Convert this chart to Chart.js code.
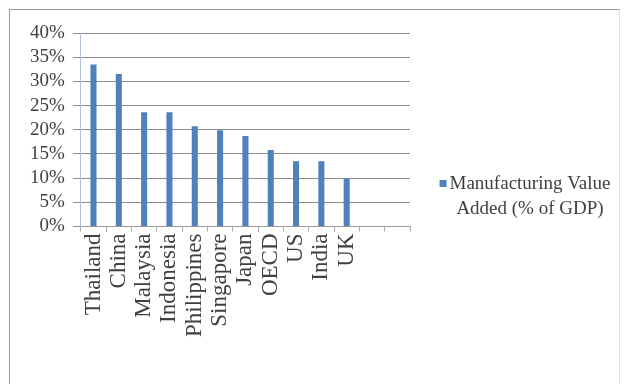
<!DOCTYPE html>
<html>
<head>
<meta charset="utf-8">
<script src="https://cdn.jsdelivr.net/npm/chart.js@4"></script>
<style>
  body { margin: 0; background: #fff; }
  #frame {
    position: absolute; left: 9px; top: 9px; width: 609px; height: 380px;
    border-top: 1px solid #9a9a9a; border-left: 1px solid #9a9a9a; border-right: 1px solid #e2e2e2;
  }
  #wrap { position: absolute; left: 0; top: 0; width: 625px; height: 384px; }
</style>
</head>
<body>
<div id="frame"></div>
<div id="wrap"><canvas id="mvaChart" width="625" height="384"></canvas></div>
<script>
// categorias (las dos ultimas vacias, como en el original)
const paises = ['Thailand', 'China', 'Malaysia', 'Indonesia', 'Philippines', 'Singapore',
                'Japan', 'OECD', 'US', 'India', 'UK', '', ''];
const valorAgregado = [33.5, 31.5, 23.6, 23.6, 20.7, 19.9, 18.7, 15.8, 13.5, 13.5, 9.9, null, null];
const ticksY = [0, 5, 10, 15, 20, 25, 30, 35, 40];
const nombreSerie = ['Manufacturing Value', 'Added (% of GDP)'];

const colorBarra = '#4F81BD';
const fuente = 'Liberation Serif, Times New Roman, serif';

// leyenda a mano porque tiene dos lineas
const leyendaPlugin = {
    id: 'leyendaDosLineas',
    afterDraw(chart) {
        const ctx = chart.ctx;
        const area = chart.chartArea;
        const cx = area.right + 120;
        const y0 = 184;
        ctx.save();
        ctx.font = '19px ' + fuente;
        ctx.fillStyle = '#404040';
        ctx.textAlign = 'center';
        ctx.textBaseline = 'middle';
        nombreSerie.forEach((linea, i) => ctx.fillText(linea, cx, y0 + i * 25));
        const w = ctx.measureText(nombreSerie[0]).width;
        ctx.fillStyle = colorBarra;
        ctx.fillRect(cx - w / 2 - 10, y0 - 4, 7, 7);
        ctx.restore();
    }
};

const ctx = document.getElementById('mvaChart');
new Chart(ctx, {
    type: 'bar',
    data: {
        labels: paises,
        datasets: [{
            label: nombreSerie.join(' '),
            data: valorAgregado,
            backgroundColor: colorBarra,
            borderWidth: 0,
            barPercentage: 0.24,
            categoryPercentage: 1
        }]
    },
    options: {
        responsive: false,
        animation: false,
        layout: { padding: { top: 33, left: 22, right: 215, bottom: 45 } },
        plugins: {
            legend: { display: false },
            tooltip: { enabled: false }
        },
        scales: {
            x: {
                grid: { display: true, drawOnChartArea: false, tickLength: 5, color: '#a8a8a8', offset: true },
                border: { color: '#9a9a9a' },
                ticks: {
                    autoSkip: false, maxRotation: 90, minRotation: 90, padding: 2,
                    color: '#404040', font: { family: fuente, size: 23 }
                }
            },
            y: {
                min: 0, max: 40,
                afterBuildTicks(axis) { axis.ticks = ticksY.map(v => ({ value: v })); },
                grid: { color: '#8c8c8c', tickLength: 8 },
                border: { color: '#b4c0d4' },
                ticks: {
                    autoSkip: false, padding: 8, color: '#404040', font: { family: fuente, size: 19 },
                    callback: v => v + '%'
                }
            }
        }
    },
    plugins: [leyendaPlugin]
});
</script>
</body>
</html>
